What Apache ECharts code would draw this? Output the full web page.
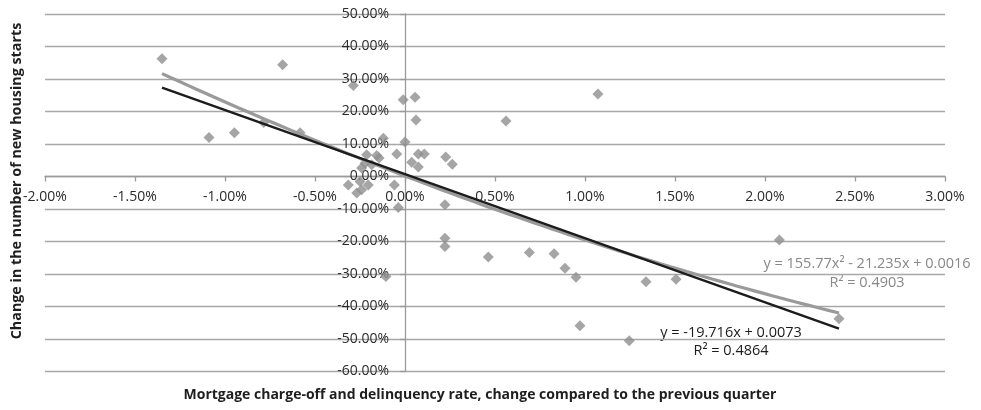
<!DOCTYPE html>
<html>
<head>
<meta charset="utf-8">
<script src="https://cdn.jsdelivr.net/npm/echarts@6/dist/echarts.min.js"></script>
<style>
  html, body { margin: 0; padding: 0; background: #fff; }
  #chart { width: 981px; height: 410px; }
</style>
</head>
<body>
<div id="chart"></div>
<script>
// Quarterly change in mortgage charge-off/delinquency rate (x, %) vs change in housing starts (y, %)
const rateChange = [
  -1.35, -0.68, -0.287, -0.01, 0.056, 0.061, 1.072, 0.561, -1.089, -0.948,
  -0.785, -0.583, -0.12, 0.0, -0.046, 0.074, 0.107, 0.226, 0.263, 0.037,
  0.074, -0.213, -0.157, -0.144, -0.222, -0.185, -0.241, -0.315, -0.25, -0.204,
  -0.059, -0.268, -0.241, -0.037, 0.222, 0.222, 0.222, -0.106, 0.463, 0.691,
  0.828, 0.889, 0.95, 0.972, 1.246, 1.339, 1.506, 2.08, 2.411
];
const startsChange = [
  36.2, 34.4, 28.0, 23.6, 24.4, 17.4, 25.4, 17.1, 12.0, 13.5,
  16.6, 13.5, 11.8, 10.6, 6.9, 6.9, 6.9, 6.0, 3.8, 4.4,
  2.9, 6.7, 6.5, 5.7, 4.1, 3.6, 2.6, -2.6, -1.5, -2.6,
  -2.6, -5.1, -4.1, -9.5, -8.7, -19.0, -21.5, -30.8, -24.8, -23.4,
  -23.8, -28.2, -31.0, -45.9, -50.5, -32.4, -31.6, -19.5, -43.8
];

// Trendline coefficients (fractions, highest power first)
const linearCoef = [-19.716, 0.0073];
const polyCoef = [155.77, -21.235, 0.0016];
const linearLabel = ['y = -19.716x + 0.0073', 'R\u00b2 = 0.4864'];
const polyLabel = ['y = 155.77x\u00b2 - 21.235x + 0.0016', 'R\u00b2 = 0.4903'];

const xTicks = { min: -2, max: 3, step: 0.5 };
const yTicks = { min: -60, max: 50, step: 10 };

const points = rateChange.map((x, i) => [x, startsChange[i]]);

// Evaluate a trendline (coefficients in fraction units) across the data range, in percent units
function trend(coef, samples) {
  const lo = Math.min(...rateChange), hi = Math.max(...rateChange);
  const out = [];
  for (let k = 0; k <= samples; k++) {
    const xp = lo + (hi - lo) * k / samples;
    const x = xp / 100;
    let y = 0;
    for (const c of coef) y = y * x + c;
    out.push([xp, y * 100]);
  }
  return out;
}

const W = 981, H = 410;
const grid = { left: 45, right: 36, top: 14, bottom: 38.5 };
const plotW = W - grid.left - grid.right;
const plotH = H - grid.top - grid.bottom;
// Shift both axes (line, ticks and labels) so they cross at the origin
const xAxisOffset = -plotH * (0 - yTicks.min) / (yTicks.max - yTicks.min);
const yAxisOffset = -plotW * (0 - xTicks.min) / (xTicks.max - xTicks.min);

const font = '"Open Sans", "DejaVu Sans", sans-serif';
const chart = echarts.init(document.getElementById('chart'), null, { renderer: 'canvas' });
const pct = v => v.toFixed(2) + '%';

chart.setOption({
  animation: false,
  backgroundColor: '#ffffff',
  grid: Object.assign({ containLabel: false }, grid),
  xAxis: {
    type: 'value', position: 'bottom', offset: xAxisOffset,
    min: xTicks.min, max: xTicks.max, interval: xTicks.step,
    axisLine: { onZero: false, lineStyle: { color: '#9a9a9a', width: 1.3 } },
    axisTick: { show: true, length: 5, lineStyle: { color: '#9a9a9a', width: 1.3 } },
    axisLabel: { formatter: pct, color: '#2b2b2b', fontFamily: font, fontSize: 14, margin: 14 },
    splitLine: { show: false }
  },
  yAxis: {
    type: 'value', position: 'left', offset: yAxisOffset,
    min: yTicks.min, max: yTicks.max, interval: yTicks.step,
    axisLine: { onZero: false, lineStyle: { color: '#9a9a9a', width: 1.3 } },
    axisTick: { show: true, length: 5, lineStyle: { color: '#9a9a9a', width: 1.3 } },
    axisLabel: { formatter: pct, color: '#2b2b2b', fontFamily: font, fontSize: 14, margin: 16 },
    splitLine: { show: true, lineStyle: { color: '#a8a8a8', width: 1.3 } }
  },
  series: [
    {
      type: 'scatter',
      data: points,
      symbol: 'diamond',
      symbolSize: [11, 11],
      itemStyle: { color: '#8e8e8e' },
      z: 2
    },
    {
      type: 'line',
      data: trend(polyCoef, 80),
      showSymbol: false,
      lineStyle: { color: '#9a9a9a', width: 3.2 },
      z: 3
    },
    {
      type: 'line',
      data: trend(linearCoef, 2),
      showSymbol: false,
      lineStyle: { color: '#1c1c1c', width: 2.4 },
      z: 4
    }
  ],
  graphic: [
    {
      type: 'text', x: 867, y: 273,
      style: {
        text: polyLabel.join('\n'), fill: '#888888', font: '14.5px ' + font,
        align: 'center', verticalAlign: 'middle', lineHeight: 19
      }
    },
    {
      type: 'text', x: 731, y: 342,
      style: {
        text: linearLabel.join('\n'), fill: '#1c1c1c', font: '14.5px ' + font,
        align: 'center', verticalAlign: 'middle', lineHeight: 18
      }
    },
    {
      type: 'text', x: 480, y: 395,
      style: {
        text: 'Mortgage charge-off and delinquency rate, change compared to the previous quarter',
        fill: '#1e1e1e', font: 'bold 14px ' + font, align: 'center', verticalAlign: 'middle'
      }
    },
    {
      type: 'text', x: 17, y: 181, rotation: Math.PI / 2,
      style: {
        text: 'Change in the number of new housing starts',
        fill: '#1e1e1e', font: 'bold 14.3px ' + font, align: 'center', verticalAlign: 'middle'
      }
    }
  ]
});
</script>
</body>
</html>
